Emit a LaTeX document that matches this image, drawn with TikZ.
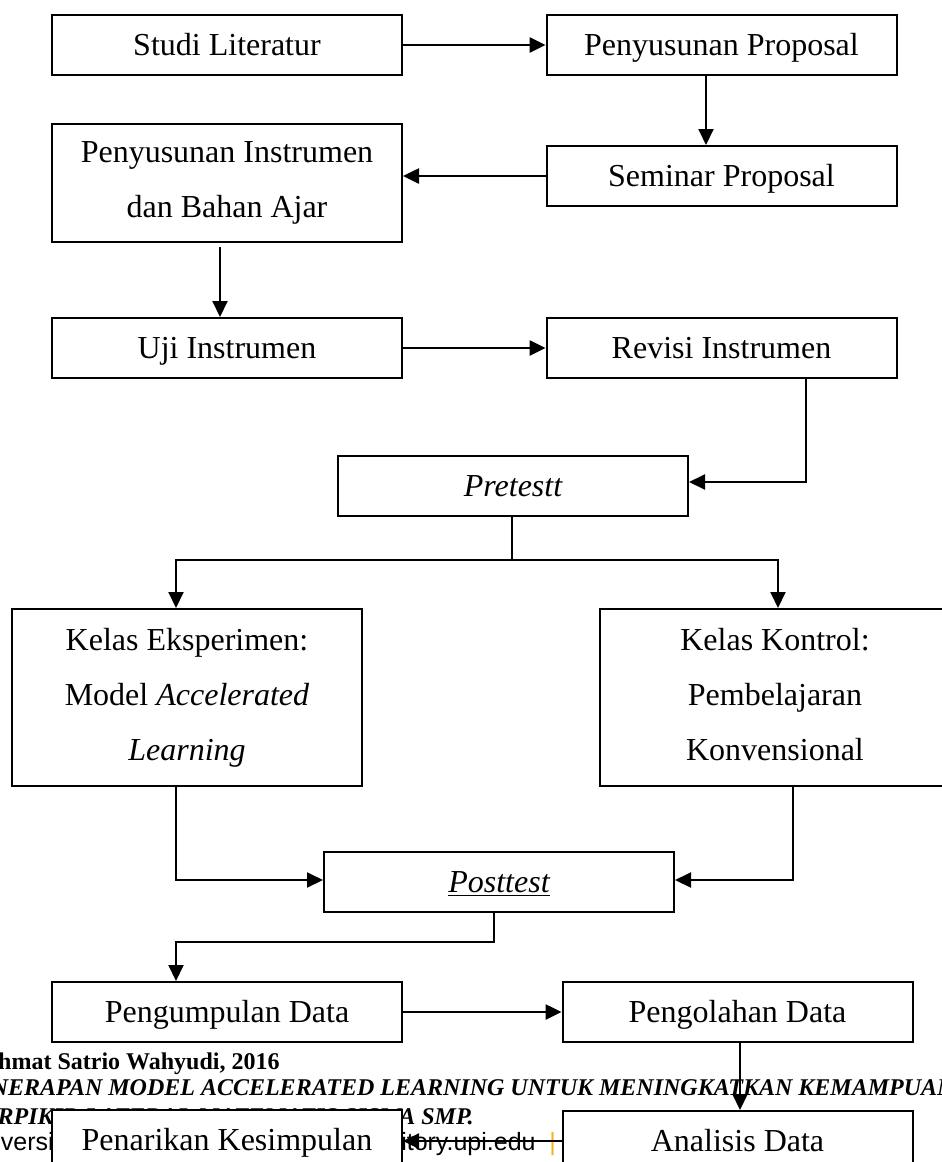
\documentclass[tikz,border=0pt]{standalone}
\usepackage{fontspec}
\setmainfont{Liberation Serif}
\setsansfont{Liberation Sans}
\usetikzlibrary{arrows.meta}
\definecolor{ybar}{RGB}{245,180,20}
\tikzset{
  boxbase/.style={draw=black, line width=1pt, fill=white, rectangle, minimum width=175pt, inner sep=2pt,
    font=\fontsize{16pt}{27.5pt}\selectfont},
  onebox/.style={boxbase, minimum height=30pt, text height=11pt, text depth=1pt},
  multibox/.style={boxbase, align=center},
  conn/.style={line width=1pt},
  varr/.style={conn, -{Triangle[length=8pt,width=7.5pt]}},
  harr/.style={line width=1.3pt, -{Triangle[length=8pt,width=7.5pt]}},
  foot/.style={inner sep=0pt, font=\fontsize{12pt}{14pt}\selectfont},
  footsans/.style={inner sep=0pt, font=\fontsize{12.5pt}{14pt}\selectfont\sffamily}
}
\begin{document}
\begin{tikzpicture}[x=0.5pt,y=-0.5pt]
\fill[white] (0,0) rectangle (942,1162);
\useasboundingbox (0,0) rectangle (942,1162);

% footer text (behind the boxes)
\node[foot, anchor=base east] (f1) at (280,1069) {\bfseries Rahmat Satrio Wahyudi, 2016};
\node[foot, anchor=base west] (f2) at (108,1095) {\bfseries\itshape\llap{PENERAPAN\ }MODEL ACCELERATED LEARNING UNTUK MENINGKATKAN KEMAMPUAN};
\node[foot, anchor=base east] (f3) at (474,1124) {\bfseries\itshape BERPIKIR LATERAL MATEMATIS SISWA SMP.};
\node[footsans, anchor=base west] (f4a) at (-37,1150) {Universitas Pendidikan Indonesia};
\node[footsans, anchor=base east] (f4b) at (536,1150) {{\color{ybar}|} repository.upi.edu\rlap{\ \ {\color{ybar}|}\ \ perpustakaan.upi.edu}};

% boxes
\node[onebox] (studi) at (227,45) {Studi Literatur};
\node[onebox] (prop) at (721.5,45) {Penyusunan Proposal};
\node[onebox] (sem) at (721.5,176) {Seminar Proposal};
\node[multibox, minimum height=59pt] (instr) at (227,183) {Penyusunan Instrumen\\dan Bahan Ajar};
\node[onebox] (uji) at (227,348) {Uji Instrumen};
\node[onebox] (rev) at (721.5,348) {Revisi Instrumen};
\node[onebox] (pre) at (513,486) {\itshape Pretestt};
\node[multibox, minimum height=88.5pt] (ke) at (187,697.5) {Kelas Eksperimen:\\Model \textit{Accelerated}\\\textit{Learning}};
\node[multibox, minimum height=88.5pt] (kk) at (775,697.5) {Kelas Kontrol:\\Pembelajaran\\Konvensional\vphantom{g}};
\node[onebox] (post) at (499,882) {\underline{\itshape Posttest}};
\node[onebox] (kump) at (227,1012) {Pengumpulan Data};
\node[onebox] (olah) at (737.5,1012) {Pengolahan Data};
\node[onebox] (anal) at (737.5,1141) {Analisis Data};
\node[onebox] (tarik) at (227,1140) {Penarikan Kesimpulan};

% bend points
\coordinate (cx1) at (706,0);
\coordinate (cx2) at (220,247);
\coordinate (cx3) at (806,482);
\coordinate (j1) at (512,560);
\coordinate (kex) at (176,0);
\coordinate (kkx) at (778,0);
\coordinate (j2) at (176,880);
\coordinate (j3) at (793,880);
\coordinate (j4) at (494,942);
\coordinate (j5) at (176,942);
\coordinate (cx6) at (740,0);

% connectors
\draw[harr] (studi.east) -- (prop.west);
\draw[varr] (prop.south -| cx1) -- (sem.north -| cx1);
\draw[harr] (sem.west) -- (sem.west -| instr.east);
\draw[varr] (cx2) -- (uji.north -| cx2);
\draw[harr] (uji.east) -- (rev.west);
\draw[varr] (rev.south -| cx3) -- (cx3) -- (pre.east |- cx3);
\draw[conn] (pre.south -| j1) -- (j1);
\draw[varr] (j1) -| (ke.north -| kex);
\draw[varr] (j1) -| (kk.north -| kkx);
\draw[varr] (ke.south -| j2) -- (j2) -- (post.west |- j2);
\draw[varr] (kk.south -| j3) -- (j3) -- (post.east |- j3);
\draw[varr] (post.south -| j4) -- (j4) -- (j5) -- (kump.north -| j5);
\draw[harr] (kump.east) -- (olah.west);
\draw[varr] (olah.south -| cx6) -- (anal.north -| cx6);
\draw[harr] (anal.west) -- (tarik.east |- anal.west);
\end{tikzpicture}
\end{document}
